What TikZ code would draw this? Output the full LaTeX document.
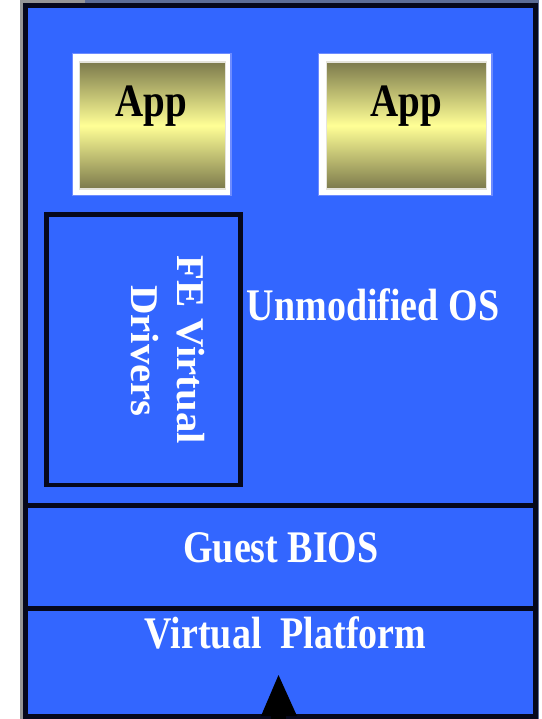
\documentclass[tikz,border=0pt]{standalone}
\usepackage{fontspec}
\setmainfont{Liberation Serif}
\definecolor{layerblue}{RGB}{51,102,255}
\definecolor{edge}{RGB}{6,8,28}
\definecolor{olivedark}{RGB}{124,122,76}
\definecolor{paleyellow}{RGB}{255,255,150}
\definecolor{halo}{RGB}{110,140,255}
\definecolor{slate}{RGB}{92,108,150}
\definecolor{framegray}{RGB}{150,150,150}
\begin{document}
\begin{tikzpicture}[x=1pt,y=-1pt,
  layer/.style={draw=edge, line width=5pt, fill=layerblue, inner sep=0pt, outer sep=0pt},
  lbl/.style={text=white, font=\bfseries\fontsize{38}{40}\selectfont, inner sep=0pt, anchor=base},
  applbl/.style={text=black, font=\bfseries\fontsize{39}{41}\selectfont, inner sep=0pt, anchor=base},
  sidelbl/.style={text=white, font=\bfseries\fontsize{39.3}{41}\selectfont, inner sep=0pt, anchor=base, rotate=-90},
  appframe/.style={fill=white, draw=halo, line width=1.5pt},
  appface/.style={top color=olivedark, bottom color=olivedark, middle color=paleyellow, draw=white!80!olivedark, line width=1.2pt}
]
\useasboundingbox (0,0) rectangle (541,719);

% thin scan frame behind the stack
\fill[slate] (20,0) rectangle (539,719);
\fill[framegray] (20,0) rectangle (85,3);
\fill[framegray] (20,0) rectangle (23,719);

% layers of the stack
\node[layer, minimum width=509.5pt, minimum height=499pt] (os) at (280.25,255.5) {};
\node[layer, minimum width=509.5pt, minimum height=103pt] (bios) at (280.25,556.5) {};
\node[layer, minimum width=509.5pt, minimum height=108pt] (vp) at (280.25,662) {};

% applications
\fill[appframe] (72.5,53.5) rectangle (231,195.5);
\node[appface, minimum width=146pt, minimum height=127pt, inner sep=0pt] (app1) at (152.5,125.5) {};
\fill[appframe] (318.5,53.5) rectangle (492,195.5);
\node[appface, minimum width=160pt, minimum height=127pt, inner sep=0pt] (app2) at (406.5,125.5) {};
\node[applbl] (app1t) at (151,117) {\scalebox{1}[1.19]{App}};
\node[applbl] (app2t) at (406,117) {\scalebox{1}[1.19]{App}};

% front-end driver box
\node[layer, line width=4.5pt, minimum width=193.8pt, minimum height=270.3pt] (fe) at (143.6,349.85) {};
\node[sidelbl] (fe1) at (177,350) {\scalebox{1.04}[1]{FE Virtual}};
\node[sidelbl] (fe2) at (131,351) {\scalebox{1.04}[1]{Drivers}};

% layer labels
\node[lbl] (ost) at (373,320) {\scalebox{1}[1.19]{Unmodified OS}};
\node[lbl] (biost) at (281,562) {\scalebox{1}[1.19]{Guest BIOS}};
\node[lbl] (vpt) at (285.5,648) {\scalebox{1}[1.19]{Virtual\ \ Platform}};

% arrow entering the platform from below
\coordinate (tip) at (278.5,675);
\coordinate (tl) at (261,716);
\coordinate (tr) at (297,716);
\fill[black] (tip) -- (tl) -- (tr) -- cycle;
\fill[black] (270.5,714) rectangle (285.5,719);
\end{tikzpicture}
\end{document}
